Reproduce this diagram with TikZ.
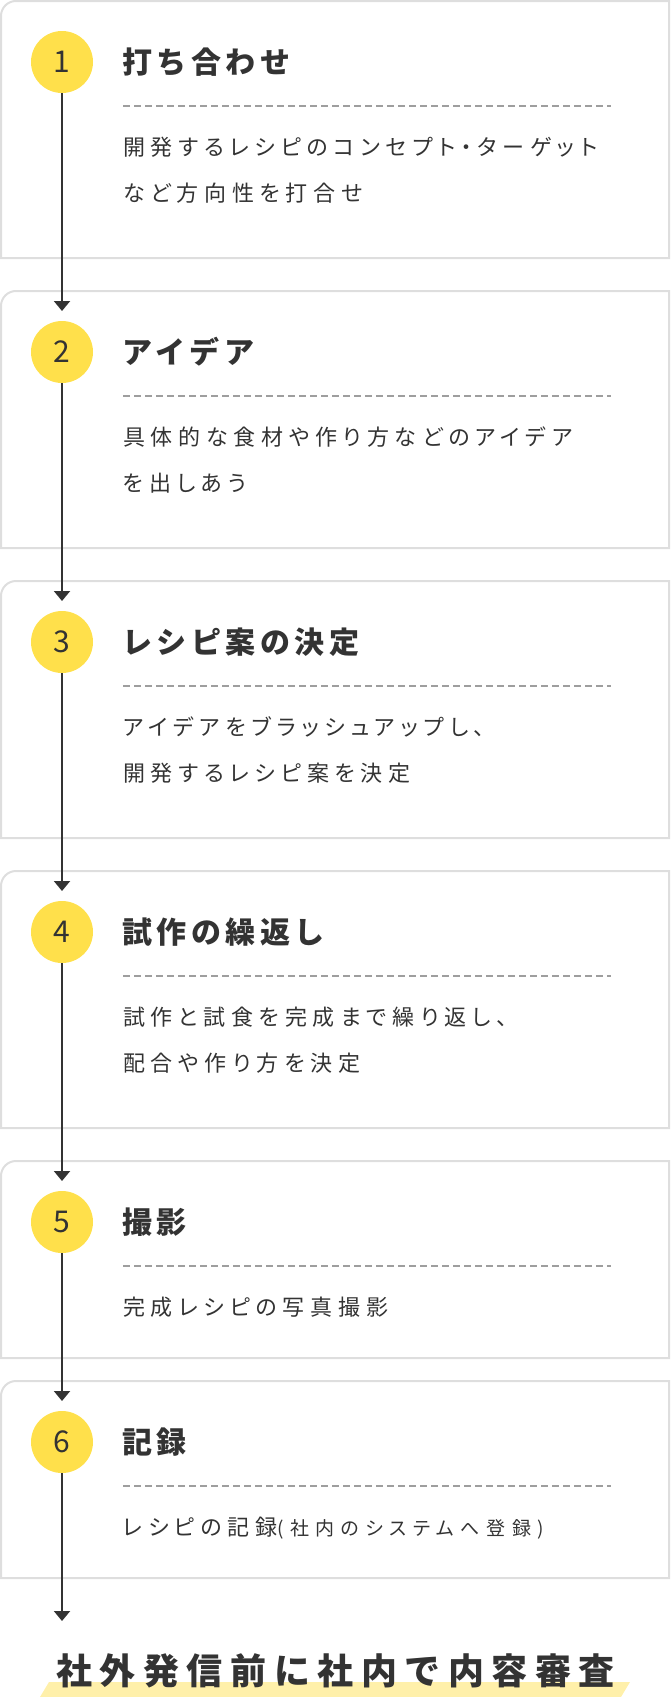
\documentclass[tikz,border=0pt]{standalone}
\usepackage{fontspec}
\setmainfont{Noto Sans CJK JP}
\newfontfamily\titlefont[LetterSpace=15]{Noto Sans CJK JP}
\newfontfamily\bodyfont[LetterSpace=26,RawFeature=+palt]{Noto Sans CJK JP}
\newfontfamily\notefont[LetterSpace=34,RawFeature=+palt]{Noto Sans CJK JP}
\newfontfamily\finalfont[LetterSpace=21]{Noto Sans CJK JP}
\usepackage{tikz}
\usetikzlibrary{%
  arrows.meta%
}
\definecolor{ink}{HTML}{333333}
\definecolor{frame}{HTML}{DEDEDE}
\definecolor{dash}{HTML}{9E9E9E}
\definecolor{dot}{HTML}{FFE04B}
\definecolor{marker}{HTML}{FFF0AA}
\tikzset{>={Triangle[width=16pt,length=10pt]}}
\tikzset{
  stepbox/.style={draw=frame,line width=2pt},
  stepnum/.style={circle,fill=dot,minimum size=62pt,inner sep=0pt,text=ink,font=\fontsize{30}{30}\selectfont},
  steptitle/.style={anchor=base west,inner sep=0pt,text=ink,font=\titlefont\bfseries\fontsize{30}{36}\selectfont},
  stepbody/.style={anchor=base west,inner sep=0pt,text=ink,font=\bodyfont\fontsize{22}{26}\selectfont},
  steprule/.style={draw=dash,line width=2pt,dash pattern=on 7pt off 4pt},
  flow/.style={->,draw=ink,line width=2pt}
}

\begin{document}
\begin{tikzpicture}[x=1pt,y=-1pt]
    \useasboundingbox (0,0) rectangle (670,1697);
    \draw[stepbox] (669,258) -- (1,258) -- (1,16) .. controls (1,7.7) and (7.7,1) .. (16,1) -- (669,1) -- cycle;
    \draw[stepbox] (669,548) -- (1,548) -- (1,306) .. controls (1,297.7) and (7.7,291) .. (16,291) -- (669,291) -- cycle;
    \draw[stepbox] (669,838) -- (1,838) -- (1,596) .. controls (1,587.7) and (7.7,581) .. (16,581) -- (669,581) -- cycle;
    \draw[stepbox] (669,1128) -- (1,1128) -- (1,886) .. controls (1,877.7) and (7.7,871) .. (16,871) -- (669,871) -- cycle;
    \draw[stepbox] (669,1358) -- (1,1358) -- (1,1176) .. controls (1,1167.7) and (7.7,1161) .. (16,1161) -- (669,1161) -- cycle;
    \draw[stepbox] (669,1578) -- (1,1578) -- (1,1396) .. controls (1,1387.7) and (7.7,1381) .. (16,1381) -- (669,1381) -- cycle;

    \node[stepnum] (n1) at (62,62) {1};
    \node[steptitle] (t1) at (122,73) {打ち合わせ};
    \draw[steprule] (123,106) -- (611,106);
    \node[stepbody] (b1a) at (123,155) {開発するレシピのコンセプト・ターゲット};
    \node[stepbody] (b1b) at (123,201) {など方向性を打合せ};

    \node[stepnum] (n2) at (62,352) {2};
    \node[steptitle] (t2) at (122,363) {アイデア};
    \draw[steprule] (123,396) -- (611,396);
    \node[stepbody] (b2a) at (123,445) {具体的な食材や作り方などのアイデア};
    \node[stepbody] (b2b) at (123,491) {を出しあう};

    \node[stepnum] (n3) at (62,642) {3};
    \node[steptitle] (t3) at (122,653) {レシピ案の決定};
    \draw[steprule] (123,686) -- (611,686);
    \node[stepbody] (b3a) at (123,735) {アイデアをブラッシュアップし、};
    \node[stepbody] (b3b) at (123,781) {開発するレシピ案を決定};

    \node[stepnum] (n4) at (62,932) {4};
    \node[steptitle] (t4) at (122,943) {試作の繰返し};
    \draw[steprule] (123,976) -- (611,976);
    \node[stepbody] (b4a) at (123,1025) {試作と試食を完成まで繰り返し、};
    \node[stepbody] (b4b) at (123,1071) {配合や作り方を決定};

    \node[stepnum] (n5) at (62,1222) {5};
    \node[steptitle] (t5) at (122,1233) {撮影};
    \draw[steprule] (123,1266) -- (611,1266);
    \node[stepbody] (b5a) at (123,1315) {完成レシピの写真撮影};

    \node[stepnum] (n6) at (62,1442) {6};
    \node[steptitle] (t6) at (122,1453) {記録};
    \draw[steprule] (123,1486) -- (611,1486);
    \node[stepbody] (b6a) at (123,1535) {レシピの記録{\notefont\fontsize{19}{22}\selectfont(社内のシステムへ登録)}};

    \coordinate (a2) at (62,311);
    \coordinate (a3) at (62,601);
    \coordinate (a4) at (62,891);
    \coordinate (a5) at (62,1181);
    \coordinate (a6) at (62,1401);
    \coordinate (a7) at (62,1621);
    \draw[flow] (n1) -- (a2);
    \draw[flow] (n2) -- (a3);
    \draw[flow] (n3) -- (a4);
    \draw[flow] (n4) -- (a5);
    \draw[flow] (n5) -- (a6);
    \draw[flow] (n6) -- (a7);

    \fill[marker] (40,1697) -- (49,1682) -- (630,1682) -- (621,1697) -- cycle;
    \node[anchor=base west,inner sep=0pt,text=ink,font=\finalfont\bfseries\fontsize{36}{40}\selectfont] (fin) at (56,1684) {社外発信前に社内で内容審査};
\end{tikzpicture}
\end{document}
